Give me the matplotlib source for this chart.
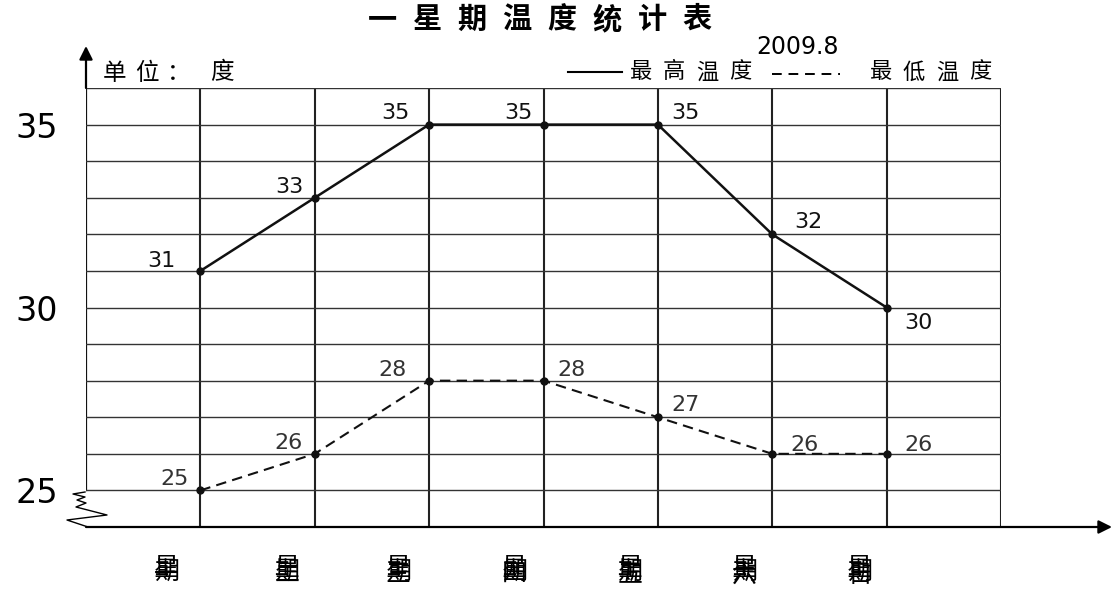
import matplotlib
matplotlib.use('Agg')
import matplotlib.pyplot as plt
import matplotlib.transforms as mtransforms
from matplotlib.lines import Line2D
import numpy as np

# Data
days = ['星期一', '星期二', '星期三', '星期四', '星期五', '星期六', '星期日']
high = [31, 33, 35, 35, 35, 32, 30]
low = [25, 26, 28, 28, 27, 26, 26]
y_ticks = [25, 30, 35]
title = '一星期温度统计表'
date_str = '2009.8'
unit_str = '单位：'
unit_name = '度'
legend_high = '最高温度'
legend_low = '最低温度'

# Label placement (pixels, relative to point)
high_off = [(-39, 10), (-25, 11), (-34, 12), (-25, 12), (28, 12), (36, 12), (32, -15)]
low_off = [(-26, 11), (-26, 11), (-37, 11), (28, 11), (28, 12), (32, 9), (32, 9)]
day_dx = [-34, -28, -31, -29, -28, -28, -27]

W, H = 1113, 593
CJK = ['Noto Sans CJK SC', 'DejaVu Sans']
NUM = ['DejaVu Sans']

fig = plt.figure(figsize=(W / 100, H / 100), dpi=100)


def fx(x):
    return x / W


def fy(y):
    return 1 - y / H


def spaced(x0, y, s, step, size, **kw):
    for i, ch in enumerate(s):
        fig.text(fx(x0 + i * step), fy(y), ch, ha='center', va='center',
                 fontsize=size, family=CJK, **kw)


ax = fig.add_axes([fx(86), fy(527), (1001 - 86) / W, (527 - 88) / H])
ax.set_xlim(0, 8)
ax.set_ylim(24, 36)
for s in ax.spines.values():
    s.set_visible(False)
ax.set_xticks([])
ax.set_yticks(y_ticks)
ax.set_yticklabels([str(v) for v in y_ticks], family=NUM)
ax.tick_params(axis='y', length=0, pad=20, labelsize=24)

# grid
ax.axvline(0, ymin=1 / 12, color='#111111', lw=1.6, zorder=1)
for v in range(1, 9):
    ax.axvline(v, color='#222222', lw=1.5, zorder=1)
for h in range(25, 37):
    ax.axhline(h, color='#333333', lw=1.0, zorder=1)

x = np.arange(1, 8)
ax.plot(x, high, color='#111111', lw=1.8, marker='o', ms=5, zorder=3)
ax.plot(x, low, color='#111111', lw=1.5, ls=(0, (5, 3)), marker='o', ms=5, zorder=3)

for xi, v, (dx, dy) in zip(x, high, high_off):
    ax.annotate(str(v), (xi, v), xytext=(dx, dy), textcoords='offset pixels',
                ha='center', va='center', fontsize=16, family=NUM, color='#111111')
for xi, v, (dx, dy) in zip(x, low, low_off):
    ax.annotate(str(v), (xi, v), xytext=(dx, dy), textcoords='offset pixels',
                ha='center', va='center', fontsize=16, family=NUM, color='#333333')

# axis arrows
ax.annotate('', xy=(0, (527 - 46) / 439), xytext=(0, 1), xycoords='axes fraction',
            arrowprops=dict(arrowstyle='-|>', color='black', lw=1.6, mutation_scale=20,
                            shrinkA=0, shrinkB=0),
            annotation_clip=False)
ax.annotate('', xy=((1112 - 86) / 915, 0), xytext=(0, 0), xycoords='axes fraction',
            arrowprops=dict(arrowstyle='-|>', color='black', lw=1.6, mutation_scale=20,
                            shrinkA=0, shrinkB=0),
            annotation_clip=False)

# axis break zigzag
zz_x = [85, 73, 85, 77, 86, 76, 107, 67, 88]
zz_y = [492, 494, 497, 500, 503, 507, 515, 520, 527]
fig.add_artist(Line2D([fx(v) for v in zz_x], [fy(v) for v in zz_y],
                      color='black', lw=1.0, transform=fig.transFigure))

# day labels: stacked characters
for xi, name, dx in zip(x, days, day_dx):
    for k, ch in enumerate(name):
        tr = mtransforms.offset_copy(ax.transData, fig, x=dx, y=-(41 + k * 3.5), units='dots')
        ax.text(xi, 24, ch, transform=tr, ha='center', va='center', fontsize=18,
                family=CJK, clip_on=False)

# title and headers
spaced(382, 19, title, 45, 21, weight='bold')
fig.text(fx(797), fy(47), date_str, ha='center', va='center', fontsize=17, family=NUM)
spaced(115, 73, unit_str, 32, 17)
fig.text(fx(222), fy(73), unit_name, ha='center', va='center', fontsize=17, family=CJK)

fig.add_artist(Line2D([fx(568), fx(622)], [fy(72), fy(72)], color='black', lw=1.5,
                      transform=fig.transFigure))
spaced(641, 72, legend_high, 33, 16)
fig.add_artist(Line2D([fx(772), fx(840)], [fy(74), fy(74)], color='black', lw=1.4,
                      ls=(0, (5, 3.5)), transform=fig.transFigure))
spaced(881, 72, legend_low, 33, 16)

fig.savefig('out.png', dpi=100)
